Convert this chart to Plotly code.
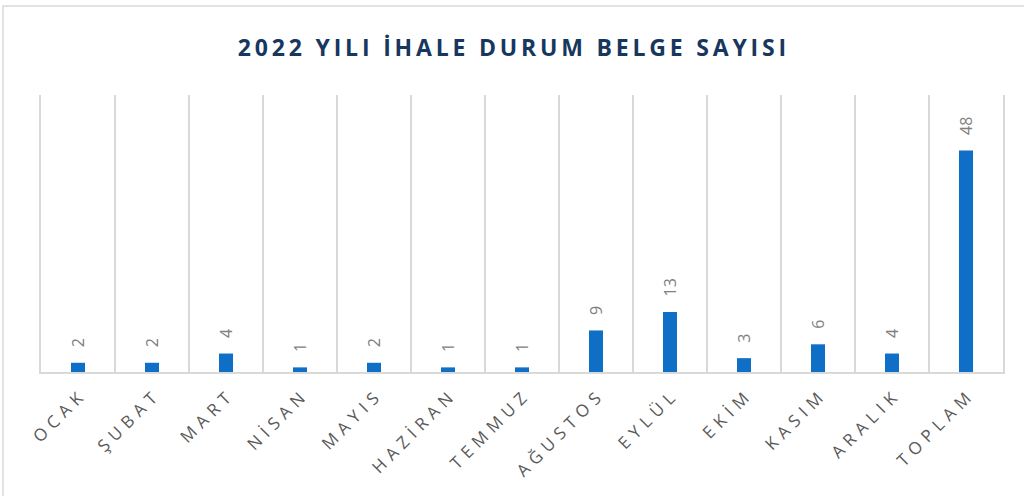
import plotly.graph_objects as go

# Monthly counts for 2022, last bar is the yearly total
MONTHS = ['OCAK', 'ŞUBAT', 'MART', 'NİSAN', 'MAYIS', 'HAZİRAN', 'TEMMUZ',
          'AĞUSTOS', 'EYLÜL', 'EKİM', 'KASIM', 'ARALIK', 'TOPLAM']
COUNTS = [2, 2, 4, 1, 2, 1, 1, 9, 13, 3, 6, 4, 48]

TITLE = '2022 YILI İHALE DURUM BELGE SAYISI'

THIN = '\u2009'


def spaced(text, gap=THIN):
    ### Fake letter spacing with thin spaces
    return gap.join(list(text))


fig = go.Figure()
fig.add_trace(go.Bar(
    x=MONTHS,
    y=COUNTS,
    marker=dict(color='#0F6FC6', line=dict(width=0)),
    text=['   ' + str(v) for v in COUNTS],
    textposition='outside',
    textangle=-90,
    constraintext='none',
    textfont=dict(family='Open Sans', size=16, color='#808080'),
    cliponaxis=False,
))

fig.update_layout(
    width=1024, height=496,
    margin=dict(l=41, r=21, t=95, b=124, autoexpand=False),
    paper_bgcolor='white', plot_bgcolor='white',
    bargap=0.81,
    showlegend=False,
    title=dict(
        text='<b>' + spaced(TITLE, THIN) + '</b>',
        x=0.5, xanchor='center', y=0.903, yanchor='middle',
        font=dict(family='Open Sans', size=23, color='#17375E'),
    ),
    xaxis=dict(
        type='category',
        tickmode='array',
        tickvals=MONTHS,
        ticktext=[spaced(m, THIN + THIN) for m in MONTHS],
        tickangle=-45,
        tickson='boundaries',
        ticks='',
        ticklabelstandoff=8,
        automargin=False,
        showgrid=True, gridcolor='#D9D9D9', gridwidth=1.5,
        showline=True, linecolor='#D9D9D9', linewidth=1.5,
        tickfont=dict(family='Open Sans', size=17, color='#595959'),
        range=[-0.5, 12.5],
    ),
    ### y axis line (mirrored) gives the outer category boundaries
    yaxis=dict(
        range=[0, 60],
        automargin=False,
        showline=True, mirror=True, linecolor='#D9D9D9', linewidth=1.5,
        showgrid=False, zeroline=False, showticklabels=False, ticks='',
    ),
    shapes=[dict(
        type='rect', xref='paper', yref='paper',
        x0=(3 - 41) / 962, x1=1.1, y0=-1, y1=1 + (95 - 6) / 277,
        line=dict(color='#D9D9D9', width=1.5), fillcolor='rgba(0,0,0,0)',
        layer='below',
    )],
)

### Drop the default 8px body margin so the figure sits at the page corner
fig.write_html("out.html", config={'displayModeBar': False},
               post_script="document.body.style.margin='0';")
